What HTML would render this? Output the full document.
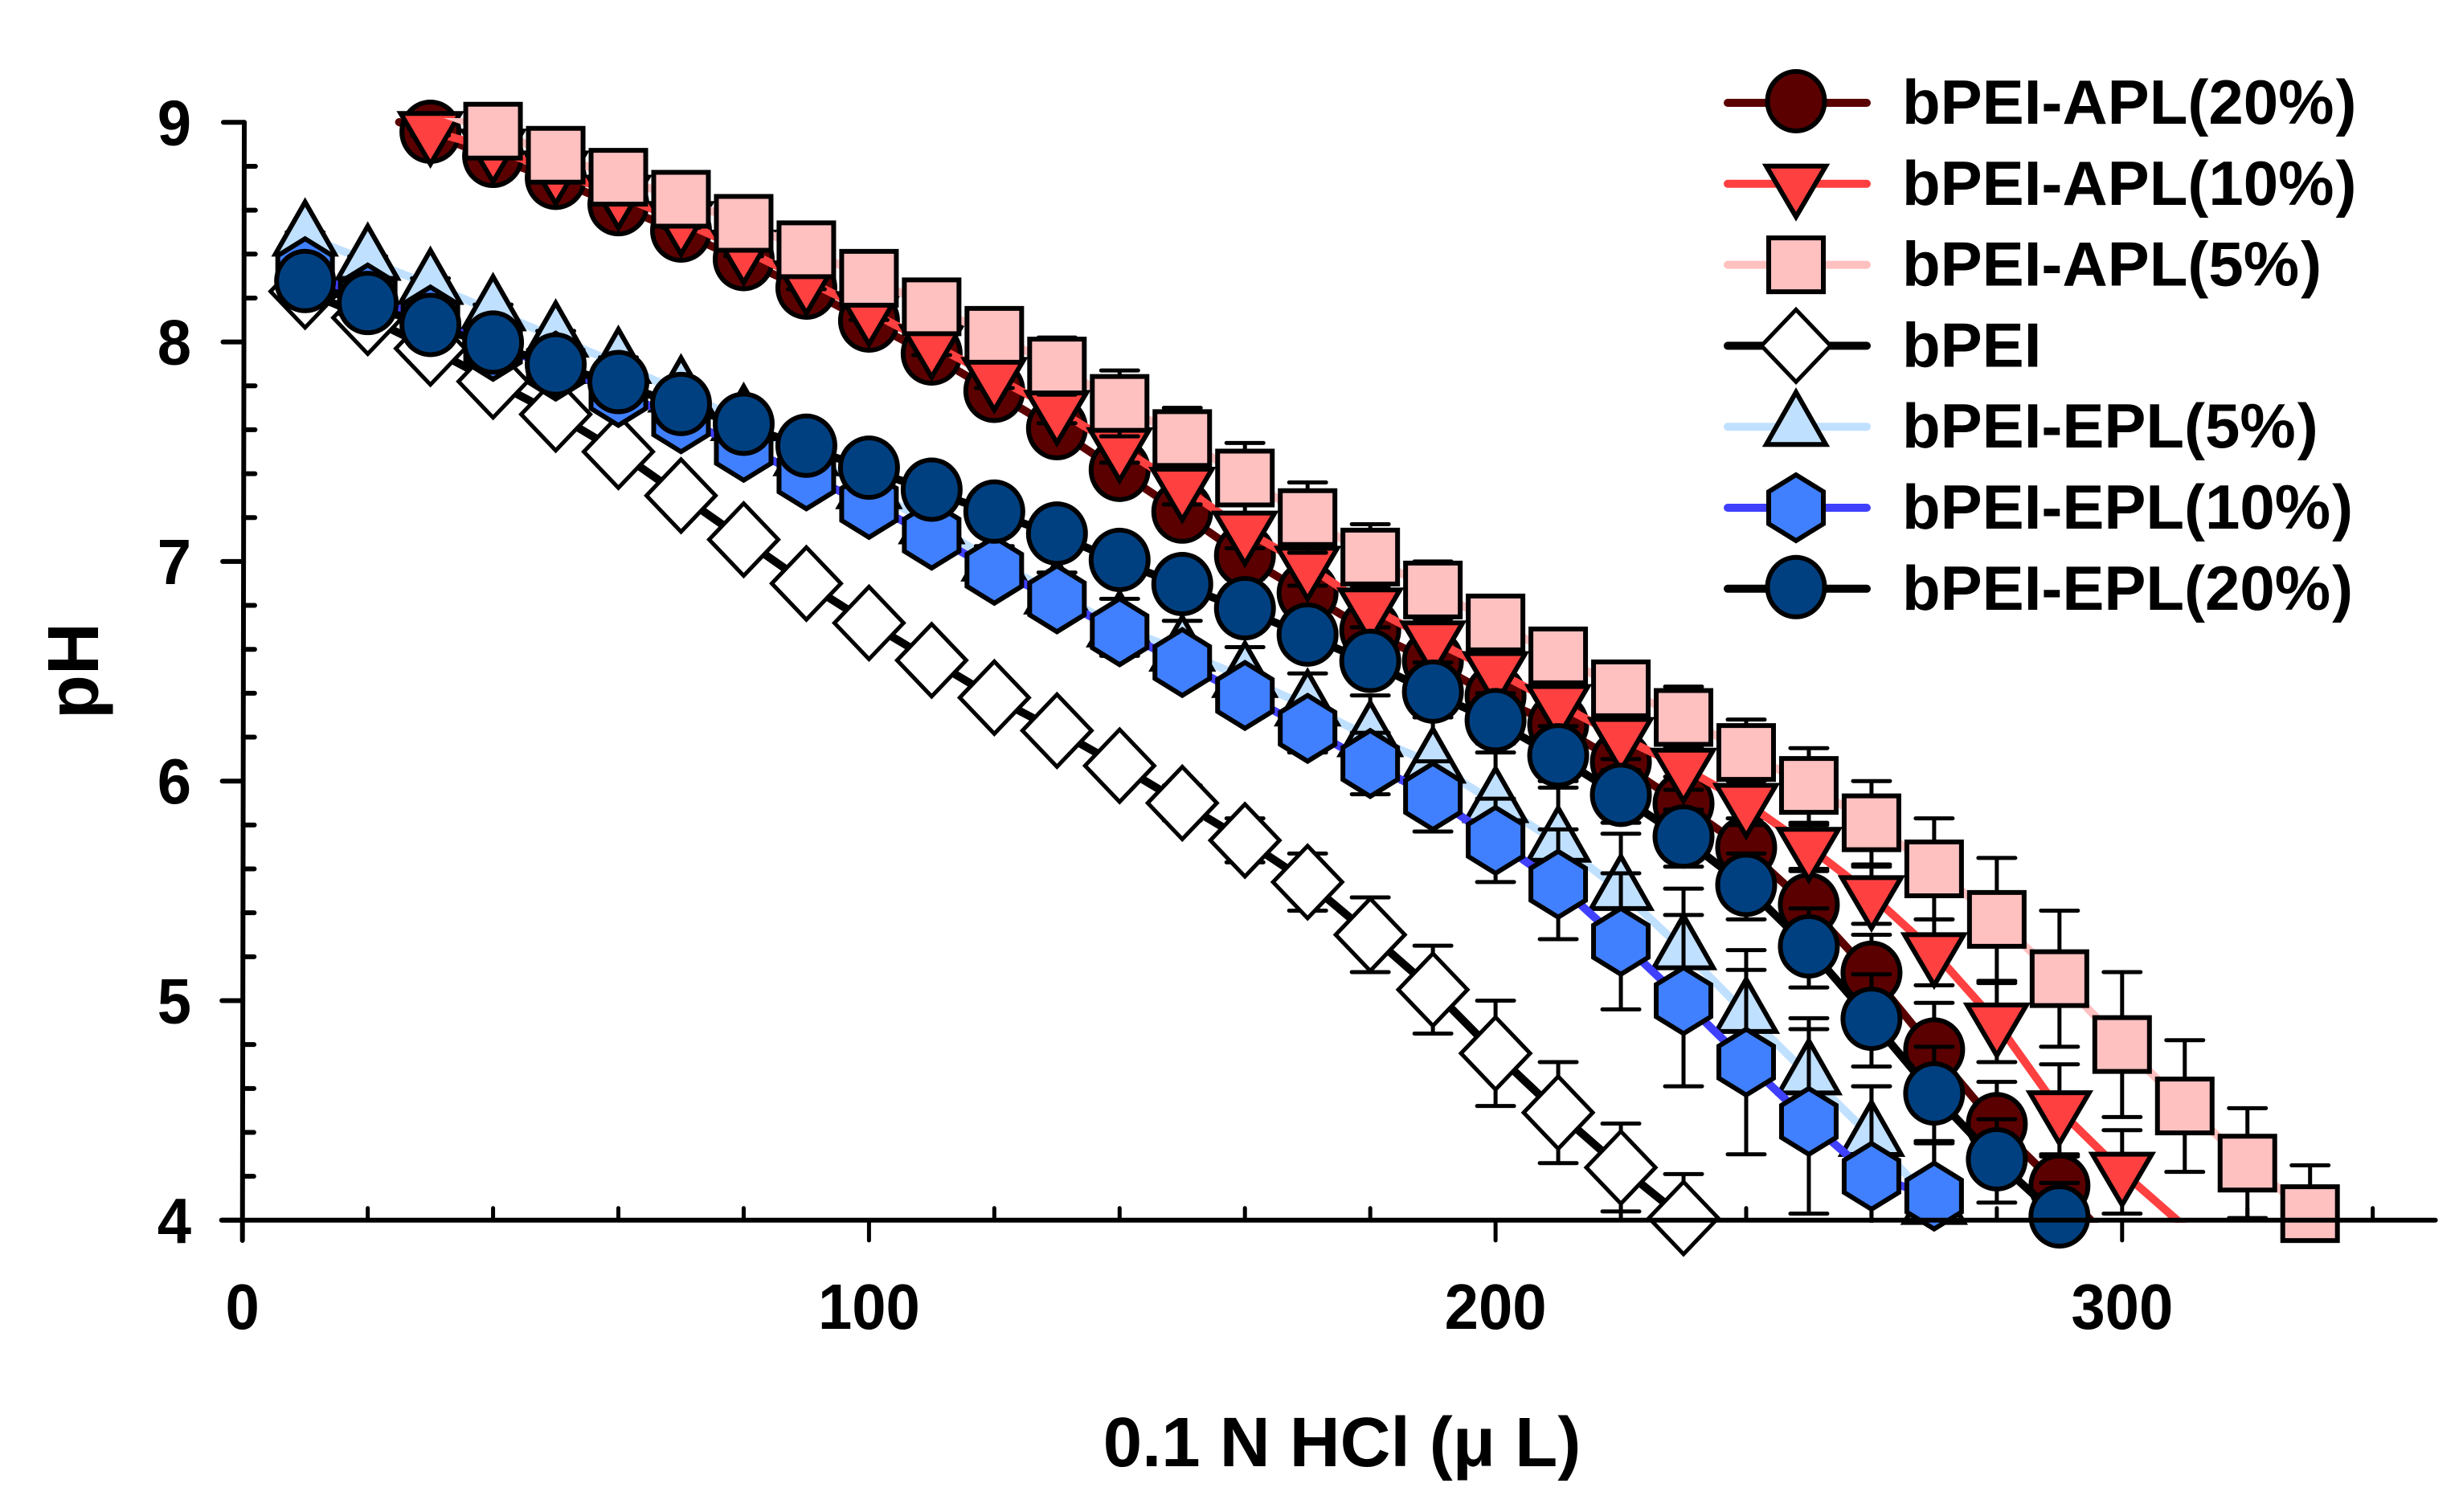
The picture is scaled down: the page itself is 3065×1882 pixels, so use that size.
<!DOCTYPE html>
<html lang="en">
<head>
<meta charset="utf-8">
<title>bPEI titration curves</title>
<style>
html,body{margin:0;padding:0;background:#fff;width:3065px;height:1882px;overflow:hidden}
svg{display:block}
text{font-family:"Liberation Sans",Arial,sans-serif;font-weight:bold;fill:#000}
</style>
</head>
<body>
<svg id="chart" xmlns="http://www.w3.org/2000/svg" width="3065" height="1882" viewBox="0 0 3065 1882">
  <defs>
    <clipPath id="plot-clip"><rect x="200" y="147" width="2860" height="1375"></rect></clipPath>
  </defs>
  <rect x="0" y="0" width="3065" height="1882" fill="#fff"></rect>
  <g id="series-layer"></g>
  <g id="axis-layer"></g>
  <g id="legend-layer"></g>
  <text x="1670" y="1825" font-size="87" text-anchor="middle">0.1 N HCl (μ L)</text>
  <text transform="translate(122,835) rotate(-90)" font-size="90" text-anchor="middle">pH</text>
</svg>
<script>
const xTickLabels = [0, 100, 200, 300];
const xMinorTicks = [20, 40, 60, 80, 120, 140, 160, 180, 220, 240, 260, 280, 320, 340];
const yTickLabels = [4, 5, 6, 7, 8, 9];
const yMinorTicks = [4.2, 4.4, 4.6, 4.8, 5.2, 5.4, 5.6, 5.8, 6.2, 6.4, 6.6, 6.8, 7.2, 7.4, 7.6, 7.8, 8.2, 8.4, 8.6, 8.8];

const apl20Volumes = [25,30,40,50,60,70,80,90,100,110,120,130,140,150,160,170,180,190,200,210,220,230,240,250,260,270,280,290,300];
const apl20Values = [9.001,8.95,8.84,8.74,8.62,8.5,8.37,8.24,8.09,7.94,7.77,7.6,7.41,7.22,7.02,6.85,6.68,6.54,6.38,6.25,6.08,5.89,5.69,5.43,5.12,4.77,4.43,4.15,3.85];
const apl20Errors = [0,.02,.02,.03,.03,.03,.04,.04,.05,.05,.06,.07,.08,.09,.1,.1,.1,.1,.11,.11,.12,.13,.14,.16,.18,.22,.2,.15,0];

const apl10Volumes = [30,40,50,60,70,80,90,100,110,120,130,140,150,160,170,180,190,200,210,220,230,240,250,260,270,280,290,300,310];
const apl10Values = [8.96,8.88,8.78,8.67,8.55,8.42,8.28,8.14,7.99,7.84,7.69,7.52,7.34,7.14,6.98,6.79,6.64,6.5,6.35,6.2,6.06,5.9,5.7,5.48,5.22,4.9,4.5,4.22,3.97];
const apl10Errors = [.02,.02,.02,.03,.03,.03,.04,.04,.05,.05,.06,.07,.08,.08,.09,.09,.1,.1,.1,.1,.1,.1,.1,.13,.15,.18,.21,.19,0];

const apl5Volumes = [30,40,50,60,70,80,90,100,110,120,130,140,150,160,170,180,190,200,210,220,230,240,250,260,270,280,290,300,310,320,330];
const apl5Values = [9.06,8.96,8.85,8.75,8.65,8.54,8.42,8.29,8.16,8.03,7.89,7.72,7.56,7.38,7.2,7.02,6.87,6.72,6.57,6.42,6.29,6.13,5.98,5.81,5.6,5.37,5.1,4.8,4.52,4.26,4.03];
const apl5Errors = [0,.02,.02,.03,.03,.04,.05,.06,.07,.09,.13,.15,.14,.16,.16,.15,.13,.1,.1,.12,.14,.15,.17,.19,.23,.28,.31,.33,.3,.25,.22];

const bpeiVolumes = [10,20,30,40,50,60,70,80,90,100,110,120,130,140,150,160,170,180,190,200,210,220,230];
const bpeiValues = [8.23,8.11,7.97,7.82,7.67,7.5,7.3,7.1,6.9,6.72,6.55,6.38,6.23,6.07,5.9,5.73,5.54,5.3,5.05,4.76,4.49,4.24,4.01];
const bpeiErrors = [.02,.02,.03,.03,.03,.04,.04,.05,.05,.05,.06,.06,.07,.07,.08,.1,.13,.17,.2,.24,.23,.2,.2];

const epl5Volumes = [10,20,30,40,50,60,70,80,90,100,110,120,130,140,150,160,170,180,190,200,210,220,230,240,250,260,270];
const epl5Values = [8.48,8.37,8.26,8.14,8.02,7.9,7.77,7.64,7.48,7.33,7.17,7.0,6.85,6.7,6.59,6.47,6.34,6.2,6.08,5.9,5.72,5.5,5.23,4.94,4.66,4.38,4.07];
const epl5Errors = [.02,.02,.03,.03,.03,.03,.04,.04,.05,.05,.06,.07,.1,.13,.14,.14,.15,.19,.21,.23,.25,.26,.28,.29,.26,.23,.29];

const epl10Volumes = [10,20,30,40,50,60,70,80,90,100,110,120,130,140,150,160,170,180,190,200,210,220,230,240,250,260,270];
const epl10Values = [8.32,8.2,8.1,7.98,7.89,7.77,7.65,7.52,7.39,7.26,7.12,6.96,6.83,6.68,6.54,6.39,6.24,6.08,5.93,5.73,5.53,5.27,5.0,4.72,4.45,4.2,4.11];
const epl10Errors = [.02,.02,.02,.03,.03,.03,.03,.04,.04,.05,.05,.06,.07,.08,.1,.1,.11,.14,.16,.19,.25,.31,.39,.42,.42,.41,.25];

const epl20Volumes = [10,20,30,40,50,60,70,80,90,100,110,120,130,140,150,160,170,180,190,200,210,220,230,240,250,260,270,280,290];
const epl20Values = [8.27,8.17,8.07,7.99,7.89,7.81,7.71,7.62,7.52,7.42,7.32,7.22,7.12,7.0,6.89,6.78,6.66,6.54,6.4,6.27,6.11,5.93,5.74,5.52,5.24,4.91,4.57,4.27,4.01];
const epl20Errors = [.02,.02,.02,.03,.03,.03,.03,.04,.04,.04,.05,.05,.05,.06,.06,.07,.07,.08,.09,.1,.11,.12,.13,.15,.18,.21,.22,.19,.16];

const seriesList = [
  {key:'apl-20', label:'bPEI-APL(20', suffix:'%', xs:apl20Volumes, ys:apl20Values, es:apl20Errors, shape:'circle', fill:'#5a0000', line:'#5a0000'},
  {key:'apl-10', label:'bPEI-APL(10', suffix:'%', xs:apl10Volumes, ys:apl10Values, es:apl10Errors, shape:'down', fill:'#ff4040', line:'#ff4040'},
  {key:'apl-5', label:'bPEI-APL(5', suffix:'%', xs:apl5Volumes, ys:apl5Values, es:apl5Errors, shape:'square', fill:'#ffc0c0', line:'#ffc0c0'},
  {key:'bpei', label:'bPEI', suffix:'', xs:bpeiVolumes, ys:bpeiValues, es:bpeiErrors, shape:'diamond', fill:'#ffffff', line:'#000000'},
  {key:'epl-5', label:'bPEI-EPL(5', suffix:'%', xs:epl5Volumes, ys:epl5Values, es:epl5Errors, shape:'up', fill:'#c0e0ff', line:'#c0e0ff'},
  {key:'epl-10', label:'bPEI-EPL(10', suffix:'%', xs:epl10Volumes, ys:epl10Values, es:epl10Errors, shape:'hexagon', fill:'#4080ff', line:'#4040ff'},
  {key:'epl-20', label:'bPEI-EPL(20', suffix:'%', xs:epl20Volumes, ys:epl20Values, es:epl20Errors, shape:'circle', fill:'#004080', line:'#000000'}
];

const SVG_NS = 'http://www.w3.org/2000/svg';
const xScale = function (v) { return 301.7 + v * 7.797; };
const yScale = function (v) { return 152.3 + (9 - v) * 273.3; };

function make(tag, parent, attrs) {
  const el = document.createElementNS(SVG_NS, tag);
  for (const k in attrs) { el.setAttribute(k, attrs[k]); }
  parent.appendChild(el);
  return el;
}

function drawMarker(parent, shape, cx, cy, fill) {
  let el;
  const base = {fill: fill, stroke: '#000', 'stroke-width': 6, 'stroke-linejoin': 'miter', 'stroke-miterlimit': 10};
  if (shape === 'circle') {
    el = make('ellipse', parent, Object.assign({cx: cx, cy: cy - 2, rx: 35.5, ry: 37}, base));
  } else {
    const shapes = {
      down: [[-37,-22],[37,-22],[0,41]],
      up: [[-37,22],[37,22],[0,-43]],
      square: [[-34,-33.5],[34,-33.5],[34,33.5],[-34,33.5]],
      diamond: [[-43,0],[0,-45],[43,0],[0,45]],
      hexagon: [[0,-41],[34,-20],[34,20],[0,41],[-34,20],[-34,-20]]
    };
    const pts = shapes[shape].map(function (p) { return (cx + p[0]) + ',' + (cy + p[1]); }).join(' ');
    el = make('polygon', parent, Object.assign({points: pts}, base));
    if (shape === 'diamond') { el.setAttribute('stroke-width', 5); }
  }
  return el;
}

const seriesLayer = document.getElementById('series-layer');
seriesList.forEach(function (s) {
  const g = make('g', seriesLayer, {});
  
  

  const clipped = make('g', g, {'clip-path': 'url(#plot-clip)'});
  const line = make('polyline', clipped, {
    points: s.xs.map(function (x, i) { return xScale(x) + ',' + yScale(s.ys[i]); }).join(' '),
    fill: 'none', stroke: s.line, 'stroke-width': 10, 'stroke-linejoin': 'round', 'stroke-linecap': 'round'
  });
  
  

  s.xs.forEach(function (x, i) {
    if (s.ys[i] < 4 || s.ys[i] > 9 || s.es[i] === 0) { return; }
    const px = xScale(x);
    const top = yScale(s.ys[i] + s.es[i]);
    const bot = yScale(s.ys[i] - s.es[i]);
    const bar = make('path', clipped, {
      d: 'M' + px + ' ' + top + 'V' + bot + 'M' + (px - 23) + ' ' + top + 'H' + (px + 23) + 'M' + (px - 23) + ' ' + bot + 'H' + (px + 23),
      fill: 'none', stroke: '#000', 'stroke-width': 5, 'stroke-linecap': 'round'
    });
    
    
  });

  s.xs.forEach(function (x, i) {
    if (s.ys[i] < 4 || s.ys[i] > 9) { return; }
    const m = drawMarker(g, s.shape, xScale(x), yScale(s.ys[i]), s.fill);
    
    
  });
});

const axisLayer = document.getElementById('axis-layer');
function axisX(v) { return 304 - (9 - v) * 0.46; }

const yAxisLine = make('line', axisLayer, {x1: 304, y1: yScale(9), x2: axisX(4), y2: 1544, stroke: '#000', 'stroke-width': 6, 'stroke-linecap': 'round'});



const xAxisLine = make('line', axisLayer, {x1: 276, y1: yScale(4), x2: xScale(350), y2: yScale(4), stroke: '#000', 'stroke-width': 6, 'stroke-linecap': 'round'});



yTickLabels.forEach(function (v) {
  const tick = make('line', axisLayer, {x1: axisX(v) - 26, y1: yScale(v), x2: axisX(v), y2: yScale(v), stroke: '#000', 'stroke-width': 6, 'stroke-linecap': 'round'});
  
  
  const label = make('text', axisLayer, {x: 238, y: yScale(v) + 28, 'font-size': 80, 'text-anchor': 'end', textLength: 42.3, lengthAdjust: 'spacingAndGlyphs'});
  label.textContent = String(v);
  
  
});
yMinorTicks.forEach(function (v) {
  const tick = make('line', axisLayer, {x1: axisX(v), y1: yScale(v), x2: axisX(v) + 14, y2: yScale(v), stroke: '#000', 'stroke-width': 6, 'stroke-linecap': 'round'});
  
  
});
xTickLabels.forEach(function (v) {
  const tick = make('line', axisLayer, {x1: xScale(v), y1: yScale(4), x2: xScale(v), y2: 1544, stroke: '#000', 'stroke-width': 5, 'stroke-linecap': 'round'});
  
  
  const label = make('text', axisLayer, {x: xScale(v), y: 1654, 'font-size': 80, 'text-anchor': 'middle', textLength: 42.3 * String(v).length, lengthAdjust: 'spacingAndGlyphs'});
  label.textContent = String(v);
  
  
});
xMinorTicks.forEach(function (v) {
  const tick = make('line', axisLayer, {x1: xScale(v), y1: yScale(4), x2: xScale(v), y2: yScale(4) - 15, stroke: '#000', 'stroke-width': 5, 'stroke-linecap': 'round'});
  
  
});

const legendLayer = document.getElementById('legend-layer');
seriesList.forEach(function (s, i) {
  const y = 128 + i * 100.8;
  const entry = make('g', legendLayer, {});
  
  
  const swatch = make('line', entry, {x1: 2150, y1: y, x2: 2323, y2: y, stroke: s.line, 'stroke-width': 10, 'stroke-linecap': 'round'});
  
  
  const marker = drawMarker(entry, s.shape, 2235, y, s.fill);
  
  
  const text = make('text', entry, {x: 2367, y: y + 26, 'font-size': 78});
  text.textContent = s.label + s.suffix;
  
  
  if (s.suffix) {
    const close = make('tspan', text, {dx: 2});
    close.textContent = ')';
  }
});
</script>
</body>
</html>
